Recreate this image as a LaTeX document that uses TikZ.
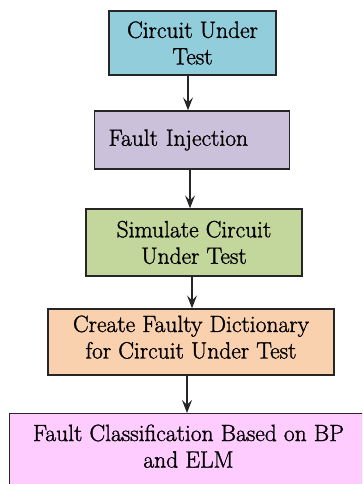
\documentclass[tikz,border=0pt]{standalone}
\usepackage{fontspec}
\newfontfamily\stagefont{Latin Modern Roman}[RawFeature={embolden=1.3}]
\usetikzlibrary{arrows.meta}
\definecolor{cutblue}{HTML}{92CDDC}
\definecolor{injlav}{HTML}{CCC1DA}
\definecolor{simgreen}{HTML}{C3D69B}
\definecolor{dictpeach}{HTML}{FAD1AE}
\definecolor{clspink}{HTML}{FFCCFF}
\begin{document}
\begin{tikzpicture}[x=1pt,y=-1pt,
  stagetext/.style={font=\stagefont\fontsize{23.5}{26.5}\selectfont,align=center,text=black},
  stagebox/.style={stagetext,draw=black!85,line width=1.4pt,inner sep=0pt},
  flow/.style={draw=black!85,line width=1.3pt,
    -{Stealth[length=13pt,width=10pt,inset=5pt]}}]
\useasboundingbox (0,0) rectangle (362,484);
\clip (0,0) rectangle (362,484);
% stages of the test flow
\node[stagebox,fill=cutblue,minimum width=167pt,minimum height=64pt]
  (cut) at (192.5,43) {Circuit Under\\Test};
\node[stagebox,fill=injlav,minimum width=195pt,minimum height=58pt,
  text width=167pt,align=left,inner xsep=14pt,anchor=west]
  (inj) at (94,140) {\raisebox{3pt}{Fault Injection}};
\node[stagebox,fill=simgreen,minimum width=216pt,minimum height=67pt]
  (sim) at (194,242.5) {Simulate Circuit\\Under Test};
\node[stagebox,fill=dictpeach,minimum width=286pt,minimum height=66pt,text depth=10pt]
  (dict) at (191,342) {Create Faulty Dictionary\\for Circuit Under Test};
\node[stagebox,fill=clspink,minimum width=358pt,minimum height=90pt,anchor=north west]
  (cls) at (9,413) {};
\node[stagetext,anchor=north]
  (clstext) at (188.5,421) {Fault Classification Based on BP\\and ELM};
% arrow start points below each stage
\coordinate (a1) at (188,75);
\coordinate (a2) at (190,169);
\coordinate (a3) at (192,276);
\coordinate (a4) at (187,375);
% connectors
\draw[flow] (a1) -- (a1 |- inj.north);
\draw[flow] (a2) -- (a2 |- sim.north);
\draw[flow] (a3) -- (a3 |- dict.north);
\draw[flow] (a4) -- (a4 |- cls.north);
\end{tikzpicture}
\end{document}
